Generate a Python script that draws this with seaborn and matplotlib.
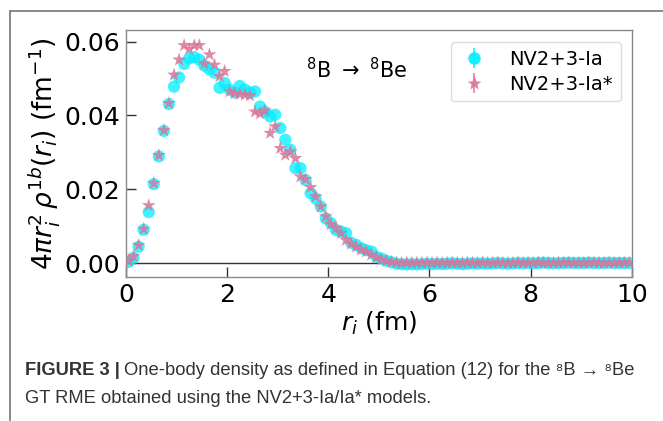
import numpy as np
import pandas as pd
import matplotlib
matplotlib.use("Agg")
import matplotlib.pyplot as plt
from matplotlib.lines import Line2D
from matplotlib.legend_handler import HandlerTuple
import seaborn as sns

# ---------------- data ----------------
r_fm = [0.05, 0.15, 0.25, 0.35, 0.45, 0.55, 0.65, 0.75, 0.85, 0.95,
        1.05, 1.15, 1.25, 1.35, 1.45, 1.55, 1.65, 1.75, 1.85, 1.95,
        2.05, 2.15, 2.25, 2.35, 2.45, 2.55, 2.65, 2.75, 2.85, 2.95,
        3.05, 3.15, 3.25, 3.35, 3.45, 3.55, 3.65, 3.75, 3.85, 3.95,
        4.05, 4.15, 4.25, 4.35, 4.45, 4.55, 4.65, 4.75, 4.85, 4.95,
        5.05, 5.15, 5.25, 5.35, 5.45, 5.55, 5.65, 5.75, 5.85, 5.95,
        6.05, 6.15, 6.25, 6.35, 6.45, 6.55, 6.65, 6.75, 6.85, 6.95,
        7.05, 7.15, 7.25, 7.35, 7.45, 7.55, 7.65, 7.75, 7.85, 7.95,
        8.05, 8.15, 8.25, 8.35, 8.45, 8.55, 8.65, 8.75, 8.85, 8.95,
        9.05, 9.15, 9.25, 9.35, 9.45, 9.55, 9.65, 9.75, 9.85, 9.95]

density_Ia = [0.0003, 0.0014, 0.0044, 0.0090, 0.0138, 0.0214, 0.0289, 0.0358, 0.0431, 0.0478,
              0.0503, 0.0540, 0.0555, 0.0558, 0.0551, 0.0535, 0.0525, 0.0516, 0.0475, 0.0488,
              0.0470, 0.0462, 0.0480, 0.0470, 0.0462, 0.0465, 0.0424, 0.0410, 0.0397, 0.0402,
              0.0366, 0.0334, 0.0307, 0.0257, 0.0257, 0.0225, 0.0189, 0.0175, 0.0153, 0.0121,
              0.0108, 0.0090, 0.0085, 0.0081, 0.0055, 0.0049, 0.0040, 0.0035, 0.0031, 0.0017,
              0.0012, 0.0006, 0.0002, -0.0002, -0.0003, -0.0004, -0.0003, -0.0004, -0.0003, -0.0002,
              -0.0003, -0.0002, -0.0003, -0.0002, -0.0001, -0.0002, -0.0003, -0.0002, -0.0001, -0.0002,
              -0.0001, -0.0002, -0.0001, 0.0000, -0.0001, -0.0002, -0.0001, 0.0000, -0.0001, 0.0000,
              -0.0001, 0.0000, 0.0001, 0.0000, -0.0001, 0.0000, 0.0000, 0.0001, 0.0000, 0.0000,
              0.0000, 0.0001, 0.0000, 0.0000, 0.0000, 0.0001, 0.0000, 0.0000, 0.0000, 0.0000]

density_Ia_star = [0.0005, 0.0018, 0.0048, 0.0092, 0.0156, 0.0216, 0.0292, 0.0360, 0.0433, 0.0510,
                   0.0551, 0.0590, 0.0580, 0.0590, 0.0590, 0.0540, 0.0565, 0.0537, 0.0506, 0.0520,
                   0.0465, 0.0460, 0.0458, 0.0456, 0.0454, 0.0410, 0.0405, 0.0413, 0.0352, 0.0370,
                   0.0311, 0.0293, 0.0302, 0.0284, 0.0234, 0.0227, 0.0205, 0.0180, 0.0153, 0.0126,
                   0.0105, 0.0095, 0.0081, 0.0062, 0.0052, 0.0044, 0.0036, 0.0031, 0.0022, 0.0015,
                   0.0010, 0.0005, 0.0003, 0.0001, 0.0000, 0.0001, 0.0000, 0.0001, 0.0000, 0.0001,
                   0.0000, 0.0001, 0.0000, 0.0000, 0.0001, 0.0000, 0.0000, 0.0001, 0.0000, 0.0000,
                   0.0001, 0.0000, 0.0000, 0.0001, 0.0000, 0.0000, 0.0000, 0.0001, 0.0000, 0.0000,
                   0.0000, 0.0001, 0.0000, 0.0000, 0.0000, 0.0000, 0.0001, 0.0000, 0.0000, 0.0000,
                   0.0000, 0.0000, 0.0001, 0.0000, 0.0000, 0.0000, 0.0000, 0.0000, 0.0001, 0.0000]

series_labels = ["NV2+3-Ia", "NV2+3-Ia*"]
x_ticks = [0, 2, 4, 6, 8, 10]
y_ticks = [0.00, 0.02, 0.04, 0.06]

# ---------------- style ----------------
sns.set_style("ticks")
plt.rcParams["font.family"] = "sans-serif"
plt.rcParams["font.sans-serif"] = ["DejaVu Sans"]
plt.rcParams["mathtext.fontset"] = "dejavusans"
for k in ["text.color", "axes.labelcolor", "xtick.color", "ytick.color"]:
    plt.rcParams[k] = "black"

df_a = pd.DataFrame({"r": r_fm, "rho": density_Ia})
df_b = pd.DataFrame({"r": r_fm, "rho": density_Ia_star})

col_a = "#00eeff"
col_b = "#d8769a"

fig = plt.figure(figsize=(6.63, 4.21), dpi=100)
ax = fig.add_axes([0.190, 0.342, 0.763, 0.587])

ax.axhline(0.0, color="#333333", lw=1.0, zorder=1)

sns.scatterplot(data=df_a, x="r", y="rho", ax=ax, marker="o", s=78,
                color=col_a, alpha=0.75, edgecolor="none", linewidth=0, zorder=2)
sns.scatterplot(data=df_b, x="r", y="rho", ax=ax, marker="*", s=110,
                color=col_b, alpha=0.85, edgecolor="none", linewidth=0, zorder=3)

ax.set_xlim(0, 10)
ax.set_ylim(-0.0038, 0.0632)
ax.set_xticks(x_ticks)
ax.set_xticklabels([str(t) for t in x_ticks])
ax.set_yticks(y_ticks)
ax.set_yticklabels([f"{t:.2f}" for t in y_ticks])
ax.tick_params(direction="in", length=7, width=1, labelsize=18, pad=4,
               color="#333333", labelcolor="black")
for sp in ax.spines.values():
    sp.set_visible(True)
    sp.set_color("#888888")
    sp.set_linewidth(1.0)

ax.set_xlabel(r"$r_i$ (fm)", fontsize=18, labelpad=2)
ax.set_ylabel(r"$4\pi r_i^2\,\rho^{1b}(r_i)$ (fm$^{-1}$)", fontsize=19, labelpad=2)

ax.text(3.55, 0.0525, r"$^{8}$B $\rightarrow$ $^{8}$Be", fontsize=15, va="center", ha="left")

# legend proxies: marker with vertical error-bar line
h_a = (Line2D([], [], ls="none", marker="|", markersize=15, mew=1.2, color=col_a, alpha=0.9),
       Line2D([], [], ls="none", marker="o", markersize=9, color=col_a, alpha=0.9, mec="none"))
h_b = (Line2D([], [], ls="none", marker="|", markersize=15, mew=1.2, color=col_b, alpha=0.9),
       Line2D([], [], ls="none", marker="*", markersize=11, color=col_b, alpha=0.9, mec="none"))
ax.legend([h_a, h_b], series_labels, handler_map={tuple: HandlerTuple(ndivide=1)},
          loc="upper right", fontsize=14, frameon=True, framealpha=1.0,
          edgecolor="#dddddd", borderpad=0.4, handletextpad=1.0, handlelength=1.6,
          labelspacing=0.3, bbox_to_anchor=(0.997, 0.99))

# figure frame lines (left and top)
fig.add_artist(Line2D([10 / 663, 10 / 663], [0, 1 - 11 / 421], transform=fig.transFigure,
                      color="#777777", lw=1.2))
fig.add_artist(Line2D([10 / 663, 1], [1 - 11 / 421, 1 - 11 / 421], transform=fig.transFigure,
                      color="#777777", lw=1.2))

# caption
cap_font = ["Liberation Sans Narrow", "Liberation Sans", "DejaVu Sans"]
t1 = fig.text(25 / 663, 1 - 375 / 421, "FIGURE 3 |", fontsize=13.2, fontweight="bold",
              family=cap_font, color="#333333", va="baseline")
fig.canvas.draw()
ax.annotate("One-body density as defined in Equation (12) for the \u2078B \u2192 \u2078Be",
            xy=(1, 0), xycoords=t1, xytext=(3, 0), textcoords="offset points",
            fontsize=13.2, family=cap_font, color="#333333", va="bottom",
            annotation_clip=False)
fig.text(25 / 663, 1 - 403 / 421, "GT RME obtained using the NV2+3-Ia/Ia* models.",
         fontsize=13.2, family=cap_font, color="#333333", va="baseline")

fig.savefig("out.png", dpi=100)
